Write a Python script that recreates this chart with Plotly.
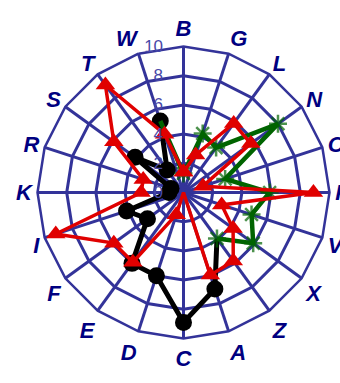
import plotly.graph_objects as go

# Category order around the chart, clockwise from the top
categories = ["B", "G", "L", "N", "O", "P", "V", "X", "Z", "A",
              "C", "D", "E", "F", "I", "K", "R", "S", "T", "W"]

# Red series: one value per category, loop closed back to B
red_theta = categories + ["B"]
red_r = [1.4, 2.7, 5.85, 5.7, 1.4, 8.9, 2.75, 4.2, 5.8, 5.95,
         0.0, 1.6, 5.9, 5.9, 9.2, 2.9, 2.9, 5.9, 9.1, 4.2, 1.4]

# Black segment of the second series (Z round to W)
black_theta = ["Z", "A", "C", "D", "E", "F", "I", "K", "R", "S", "T", "W"]
black_r = [3.9, 6.95, 8.9, 6.0, 6.0, 3.05, 4.1, 1.0, 0.9, 4.1, 1.9, 5.15]

# Green segment of the second series (W round to Z)
green_theta = ["W", "B", "G", "L", "N", "O", "P", "V", "X", "Z"]
green_r = [5.15, 1.3, 4.25, 3.8, 8.0, 3.0, 5.9, 4.9, 5.9, 3.9]

radial_ticks = [0, 2, 4, 6, 8, 10]

grid_color = "#333399"

fig = go.Figure()

fig.add_trace(go.Scatterpolar(
    r=black_r, theta=black_theta, mode="lines+markers",
    line=dict(color="black", width=5),
    marker=dict(symbol="circle", color="black", opacity=1,
                size=[0] + [17] * (len(black_r) - 1),
                line=dict(width=0, color="black")),
))

fig.add_trace(go.Scatterpolar(
    r=green_r, theta=green_theta, mode="lines+markers",
    line=dict(color="#006400", width=4.5),
    marker=dict(symbol="asterisk-open", size=[0] + [15] * (len(green_r) - 1),
                line=dict(color="#006400", width=2.5)),
))

fig.add_trace(go.Scatterpolar(
    r=red_r, theta=red_theta, mode="lines+markers",
    line=dict(color="#e00000", width=3.5),
    marker=dict(symbol="triangle-up", color="#e00000", size=17,
                line=dict(width=0)),
))

W, H = 340, 383
cx, cy, rad = 183.5, 192.5, 146

fig.update_layout(
    width=W, height=H,
    margin=dict(l=0, r=0, t=0, b=0),
    paper_bgcolor="white",
    showlegend=False,
    polar=dict(
        domain=dict(x=[(cx - rad) / W, (cx + rad) / W],
                    y=[(H - cy - rad) / H, (H - cy + rad) / H]),
        bgcolor="white",
        gridshape="linear",
        angularaxis=dict(
            type="category",
            categoryarray=categories,
            categoryorder="array",
            direction="clockwise",
            rotation=90,
            showline=True,
            linecolor=grid_color,
            linewidth=2.5,
            gridcolor=grid_color,
            gridwidth=2.5,
            ticks="",
            tickfont=dict(family="Liberation Sans", size=22, color="#000080",
                          weight="bold", style="italic"),
        ),
        radialaxis=dict(
            range=[0, 10],
            tickvals=radial_ticks,
            angle=90,
            side="counterclockwise",
            tickangle=90,
            showline=False,
            gridcolor=grid_color,
            gridwidth=2.5,
            ticks="outside",
            ticklen=14,
            tickcolor="rgba(0,0,0,0)",
            tickfont=dict(family="Liberation Sans", size=17, color="#4848a8"),
        ),
    ),
)

fig.write_html("out.html")
